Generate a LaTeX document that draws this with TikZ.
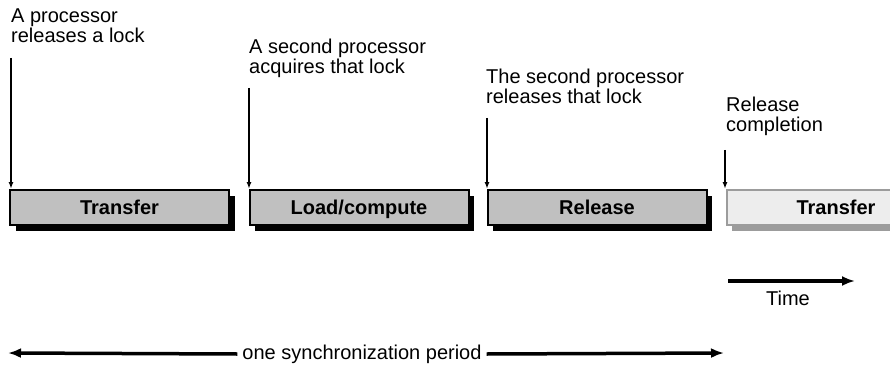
\documentclass[tikz,border=0pt]{standalone}
\usepackage{fontspec}
\setmainfont{Liberation Sans}
\usetikzlibrary{arrows.meta,shadows}

\definecolor{stagegray}{HTML}{C0C0C0}
\definecolor{nextgray}{HTML}{EDEDED}
\definecolor{rimgray}{HTML}{9C9C9C}

\tikzset{
  stage/.style={draw=black, line width=2pt, fill=stagegray,
    minimum width=219pt, minimum height=35pt, inner sep=0pt,
    text height=16pt, text depth=3pt,
    font=\fontsize{20}{21}\selectfont\bfseries,
    drop shadow={shadow xshift=5.5pt, shadow yshift=-5.5pt, fill=black, opacity=1}},
  nextstage/.style={stage, draw=rimgray, fill=nextgray,
    drop shadow={shadow xshift=5.5pt, shadow yshift=-5.5pt, fill=rimgray, opacity=1}},
  event/.style={anchor=north west, inner sep=0pt, align=left,
    font=\fontsize{20}{20}\selectfont},
  plain/.style={inner sep=0pt, font=\fontsize{20}{20}\selectfont}
}

\begin{document}
\begin{tikzpicture}[x=1pt, y=-1pt]
\path[use as bounding box, clip] (0,0) rectangle (890,366);

% the four stages
\node[stage] at (119.5,207.5) (transfer) {Transfer};
\node[stage] at (359,207.5) (load) {Load/compute};
\node[stage] at (597,207.5) (release) {Release};
\node[nextstage] at (836,207.5) (transfer2) {Transfer};

% events above the stages
\node[event] at (11,9) (ev1) {A processor\\releases a lock};
\node[event] at (249,39) (ev2) {A second processor\\acquires that lock};
\node[event] at (486,69) (ev3) {The second processor\\releases that lock};
\node[event] at (726,97) (ev4) {Release\\completion};

\coordinate (p1) at (11,58);
\coordinate (p2) at (249,88);
\coordinate (p3) at (487,118);
\coordinate (p4) at (725,150);

\draw[arrows={-Latex[length=7pt, width=5pt]}, line width=1.6pt] (p1) -- (p1 |- transfer.north);
\draw[arrows={-Latex[length=7pt, width=5pt]}, line width=1.6pt] (p2) -- (p2 |- load.north);
\draw[arrows={-Latex[length=7pt, width=5pt]}, line width=1.6pt] (p3) -- (p3 |- release.north);
\draw[arrows={-Latex[length=7pt, width=5pt]}, line width=1.6pt] (p4) -- (p4 |- transfer2.north);

% time axis
\coordinate (t0) at (728,281);
\coordinate (t1) at (855,281);
\node[plain] at (788,298) (time) {Time};
\draw[arrows={-Latex[length=13pt, width=10pt]}, line width=3.5pt] (t0) -- (t1);

% period
\coordinate (pl) at (8,353);
\coordinate (pr) at (724,353);
\node[plain, inner xsep=5pt] at (362,354) (period) {one synchronization period};
\draw[arrows={-Latex[length=13pt, width=10pt]}, line width=3.5pt] (period.west) -- (pl);
\draw[arrows={-Latex[length=13pt, width=10pt]}, line width=3.5pt] (period.east) -- (pr);
\end{tikzpicture}
\end{document}
